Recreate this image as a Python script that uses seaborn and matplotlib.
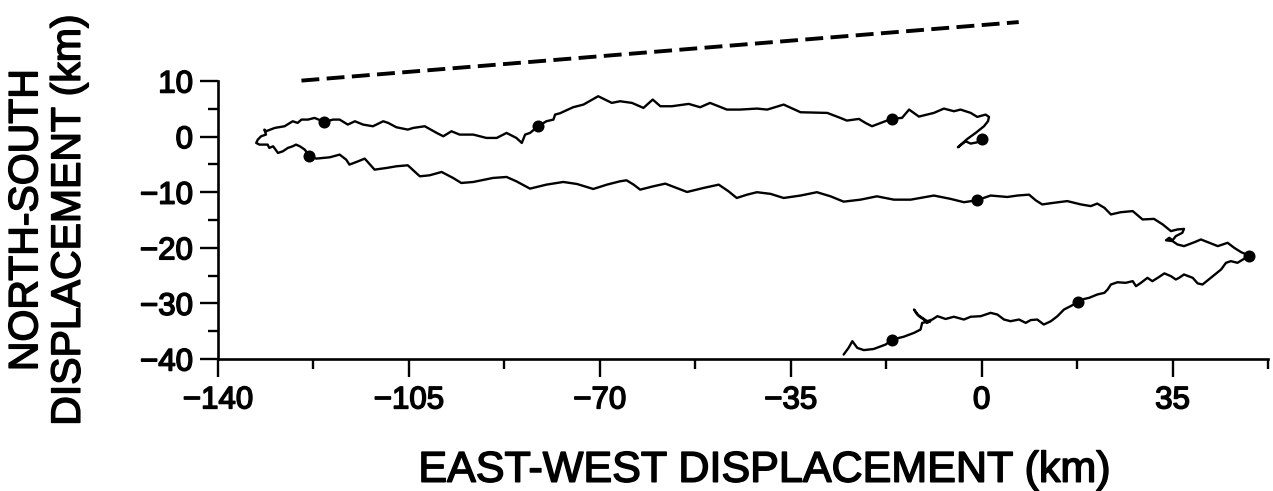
import matplotlib
matplotlib.use("Agg")
import matplotlib.pyplot as plt
import matplotlib.patheffects as pe
import seaborn as sns
import pandas as pd
from matplotlib.ticker import MultipleLocator

# ---- data (km) ----
track_x = [0.12, -0.8, -2.0, -2.94, -4.35, -3.3, -2.6, -1.1, 0.43, 1.16, 1.35, 0.73, -0.8,
           -2.0, -3.86, -5.08, -6.92, -8.76, -9.98, -11.5, -13.3, -14.6, -16.4, -18.5, -20.1,
           -21.3, -22.5, -24.7, -25.9, -28.3, -33.2, -36.3, -39.3, -41.2, -44.3, -46.7, -49.8,
           -51.6, -53.7, -56.8, -58.9, -60.3, -62.0, -64.1, -66.3, -67.8, -70.3, -73.0, -74.9,
           -77.3, -78.2, -78.5, -79.8, -81.3, -82.8, -83.7, -84.3, -85.3, -87.1, -88.9, -90.8,
           -93.2, -95.7, -97.2, -98.7, -99.9, -102.1, -104.2, -105.2, -107.3, -108.8, -109.7,
           -111.6, -113.4, -114.9, -116.2, -117.7, -118.9, -120.5, -122.3, -123.5, -124.7,
           -125.4, -126.3, -127.8, -129.6, -131.2, -131.5, -131.2, -132.1, -132.7, -133.0,
           -132.4, -130.9, -130.6, -129.9, -129.0, -128.1, -127.2, -126.3, -125.7, -125.0,
           -124.1, -123.3, -122.0, -119.5, -117.7, -116.5, -115.9, -114.3, -113.1, -111.3,
           -109.1, -107.3, -105.2, -103.0, -101.2, -99.0, -96.9, -95.4, -93.2, -89.6, -87.1,
           -85.3, -82.8, -79.8, -76.7, -74.2, -71.2, -68.7, -66.3, -65.1, -63.8, -62.6, -60.2,
           -58.0, -55.9, -54.0, -51.0, -48.2, -46.4, -44.9, -43.0, -41.2, -38.7, -36.3, -33.2,
           -30.2, -27.7, -25.3, -22.2, -19.2, -16.1, -13.0, -8.76, -5.7, -3.25, -0.9, 1.65,
           4.72, 6.56, 8.69, 9.92, 11.1, 13.3, 15.7, 18.2, 20.0, 21.2, 22.5, 23.7, 25.5, 27.7,
           29.5, 31.6, 33.2, 34.7, 35.9, 37.1, 36.8, 35.6, 35.0, 34.4, 33.8, 35.0, 35.9, 37.1,
           39.0, 40.2, 42.0, 43.3, 45.1, 46.3, 47.6, 49.1, 46.9, 45.7, 44.8, 43.9, 42.0, 40.5,
           39.6, 38.7, 37.1, 36.2, 35.6, 34.7, 33.5, 32.6, 31.3, 30.4, 29.2, 28.3, 27.7, 26.4,
           24.9, 23.7, 23.1, 22.5, 21.2, 19.7, 18.8, 17.6, 16.3, 15.1, 13.9, 12.7, 11.4, 10.2,
           9.0, 8.08, 6.85, 5.3, 4.1, 2.88, 1.65, -0.18, -2.0, -3.25, -5.1, -6.6, -8.1, -9.05,
           -9.97, -10.9, -11.8, -12.4, -11.5, -10.6, -10.0, -9.4, -10.9, -11.2, -12.4, -14.3,
           -16.4, -17.6, -19.8, -21.6, -22.8, -23.7, -24.4, -25.3]
track_y = [-0.36, -1.02, -1.26, -0.84, -1.92, -1.0, -0.4, 0.66, 1.86, 2.76, 3.54, 3.96, 3.54,
           4.26, 4.86, 4.56, 5.04, 4.26, 3.96, 3.6, 4.86, 3.36, 3.24, 2.46, 1.86,
           2.46, 3.18, 2.88, 3.36, 4.26, 4.38, 5.76, 4.86, 5.04, 4.86, 4.86, 6.06,
           5.28, 5.88, 5.46, 5.46, 6.66, 5.16, 6.06, 6.36, 6.06, 7.26, 5.76, 5.28,
           4.2, 3.96, 3.06, 2.76, 1.86, 0.66, 0.36, -1.14, -0.24, 0.66, -0.24, -0.24,
           0.36, 0.36, 0.96, 0.06, 0.66, 1.86, 1.56, 1.26, 1.68, 2.46, 2.76,
           1.86, 2.16, 2.76, 2.16, 3.06, 3.06, 2.64, 3.36, 3.06, 3.06,
           2.46, 2.76, 1.86, 1.56, 0.96, 1.26, 0.36, 0.06, -0.54, -1.14,
           -1.44, -1.44, -2.04, -1.74, -2.94, -2.64, -2.04, -1.74, -1.44, -1.74,
           -2.34, -3.4, -3.96, -3.72, -3.24, -4.14, -5.04, -4.44, -3.96, -5.94,
           -5.64, -5.34, -5.16, -7.14, -6.96, -6.36, -7.44, -8.34, -8.16, -7.44, -7.26,
           -8.04, -9.36, -8.64, -8.16, -8.52, -9.42, -8.64, -8.04, -7.86, -8.64, -9.54, -8.94,
           -8.46, -9.24, -9.96, -9.24, -8.64, -9.84, -11.04, -10.44, -10.0, -10.3, -11.04, -10.6,
           -10.0, -10.74, -11.7, -11.34, -10.74, -11.34, -11.34, -10.6, -11.2, -11.8, -11.46, -10.6,
           -10.86, -10.6, -10.44, -11.46, -12.2, -11.9, -11.6, -12.2, -12.5, -12.05, -12.8, -14.0, -13.6, -13.4,
           -14.9, -14.8, -15.8, -17.0, -16.7, -16.6, -17.3, -17.9, -18.65, -18.2, -18.65, -18.8, -19.4, -19.7,
           -19.0, -18.5, -19.2, -19.7, -19.1, -20.0, -20.8, -21.4, -22.7, -22.4, -22.7, -23.9, -25.4, -26.6,
           -26.4, -25.4, -24.8, -25.4, -25.7, -25.1, -24.6, -25.2, -26.0, -25.4, -26.3, -26.9, -26.0, -26.3,
           -26.2, -26.6, -27.5, -28.1, -28.4, -29.0, -29.2, -29.8, -30.5, -31.1, -32.3, -33.2, -33.8, -32.9,
           -33.0, -33.5, -32.9, -33.2, -32.9, -32.0, -31.7, -32.3, -32.4, -32.9, -32.4, -32.8, -32.3, -32.9,
           -33.2, -32.6, -32.0, -31.1, -32.3, -32.9, -33.5, -33.2, -33.5, -34.7, -35.3, -36.0,
           -36.5, -37.4, -38.2, -38.4, -38.0, -36.8, -38.0, -39.2]

dot_x = [0.12, -16.4, -81.3, -120.5, -123.3, -0.9, 49.1, 17.6, -16.4]
dot_y = [-0.36, 3.24, 1.86, 2.64, -3.4, -11.46, -21.4, -29.8, -36.5]

dash_x = [-124.7, 6.8]
dash_y = [10.07, 20.6]

x_ticks = [-140, -105, -70, -35, 0, 35]
y_ticks = [-40, -30, -20, -10, 0, 10]
x_label = "EAST-WEST DISPLACEMENT (km)"
y_label = "NORTH-SOUTH\nDISPLACEMENT (km)"

# ---- style ----
sns.set_style("ticks")
plt.rcParams['font.family'] = ['Liberation Sans', 'DejaVu Sans']

fig = plt.figure(figsize=(12.73, 4.91), dpi=100)
ax = fig.add_axes([218 / 1273, 1 - 359 / 491, 1050 / 1273, 278 / 491])

track = pd.DataFrame({"x": track_x, "y": track_y})
sns.lineplot(data=track, x="x", y="y", sort=False, estimator=None, color="black",
             linewidth=1.7, ax=ax)
sns.scatterplot(x=dot_x, y=dot_y, color="black", s=75, edgecolor="black", linewidth=0,
                ax=ax, zorder=4)
dash = pd.DataFrame({"x": dash_x, "y": dash_y})
sns.lineplot(data=dash, x="x", y="y", sort=False, estimator=None, color="black",
             linewidth=2.8, linestyle=(0, (4.6, 1.9)), clip_on=False, ax=ax)

ax.set_xlim(-140, 52.5)
ax.set_ylim(-40, 10)
ax.set_xticks(x_ticks)
ax.set_yticks(y_ticks)
ax.xaxis.set_minor_locator(MultipleLocator(17.5))
ax.yaxis.set_minor_locator(MultipleLocator(5))
sns.despine(ax=ax)
for s in ("left", "bottom"):
    ax.spines[s].set_linewidth(1.9)
    ax.spines[s].set_color("black")
ax.tick_params(which="major", direction="out", length=13, width=1.7, color="black",
               labelsize=22.5, labelcolor="black")
ax.tick_params(which="minor", direction="out", length=7, width=1.7, color="black")
ax.tick_params(axis="x", which="major", pad=6)
ax.tick_params(axis="y", which="major", pad=5)

thick = [pe.withStroke(linewidth=1.1, foreground="black")]
for lab in ax.get_xticklabels() + ax.get_yticklabels():
    lab.set_path_effects(thick)

ax.set_xlabel(x_label, fontsize=31, color="black", path_effects=thick)
ax.xaxis.set_label_coords(0.52, -0.33)
ax.set_ylabel(y_label, fontsize=29.5, color="black", linespacing=1.15, path_effects=thick)
ax.yaxis.set_label_coords(-0.124, 0.5)

fig.savefig("out.png", dpi=100)
